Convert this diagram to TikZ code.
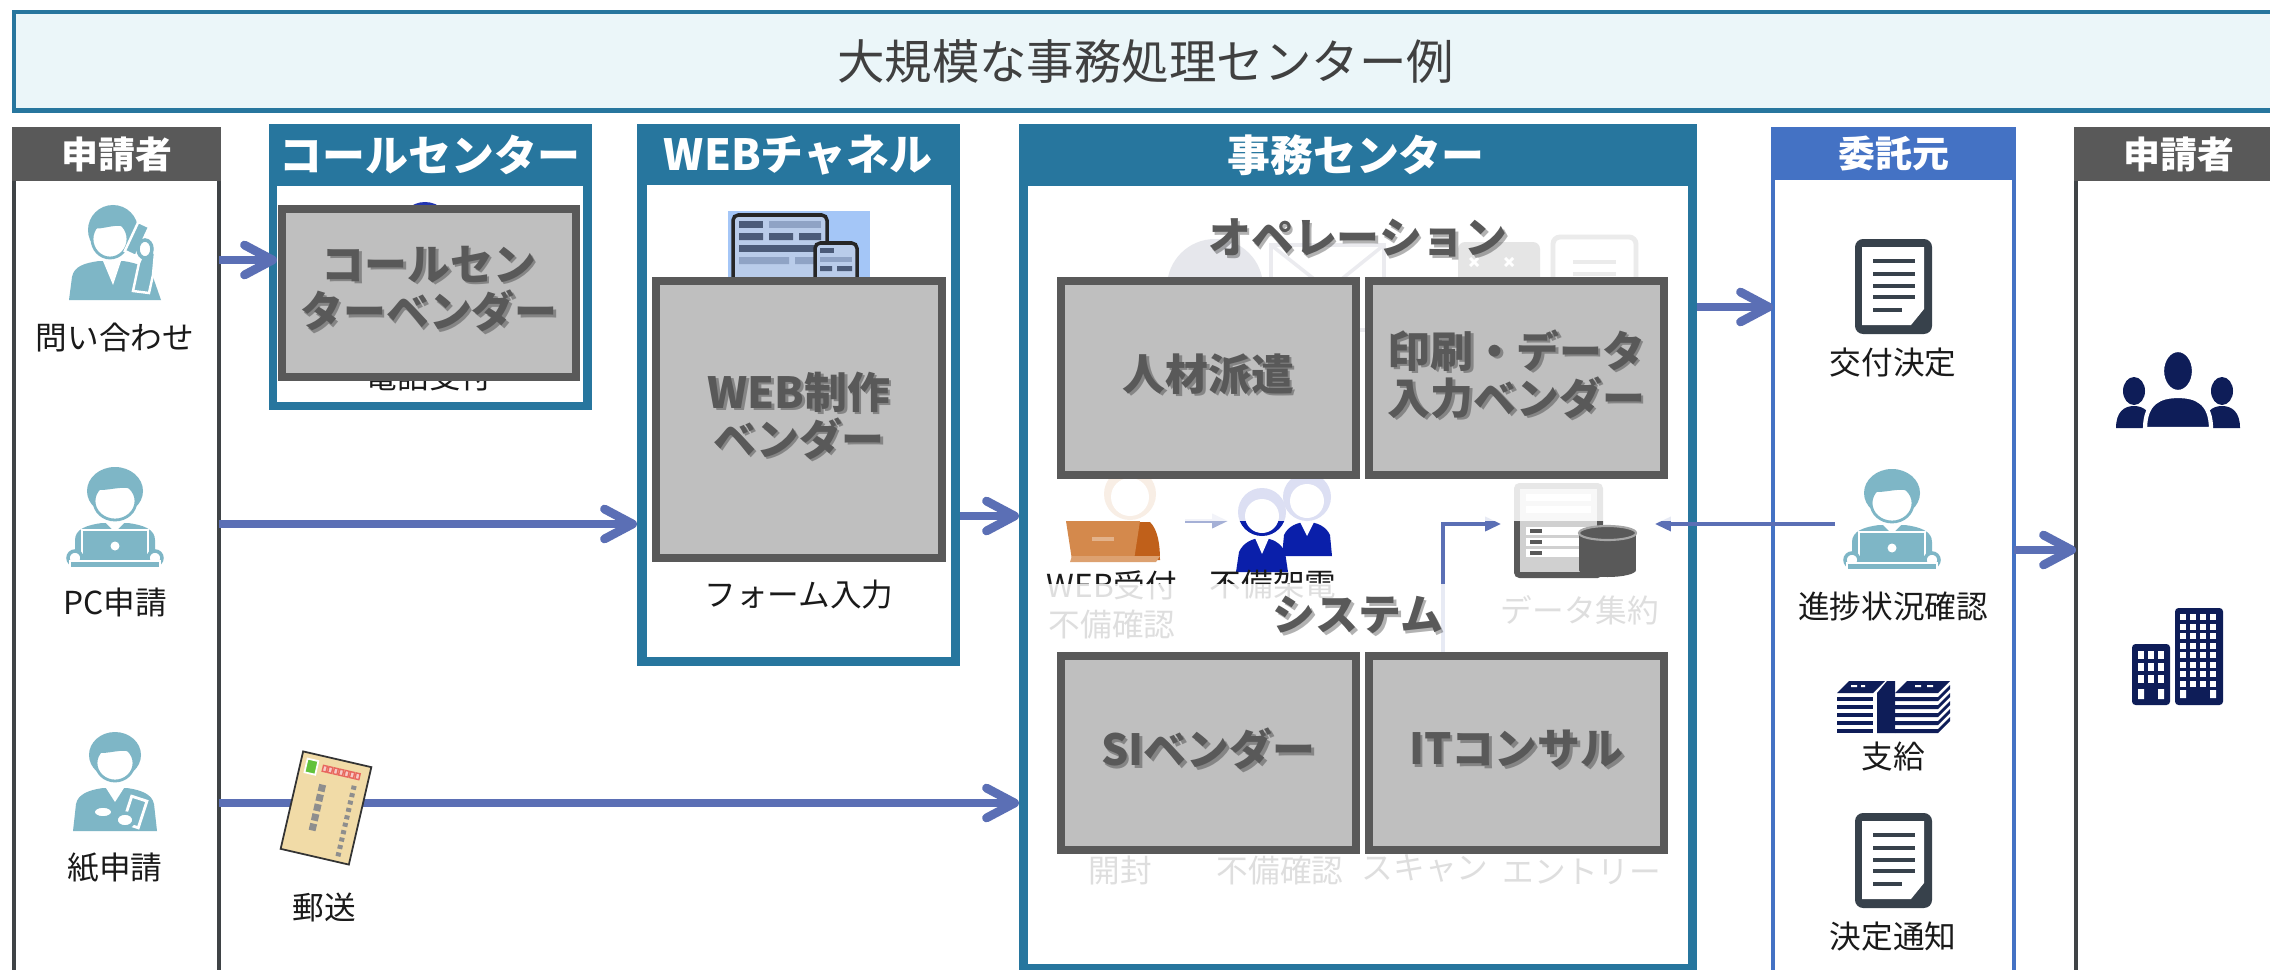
\documentclass[tikz,border=0pt]{standalone}
\usepackage{fontspec}
\setmainfont{Noto Sans CJK JP}
\usetikzlibrary{arrows.meta}

\definecolor{frameblue}{HTML}{27769E}
\definecolor{clientblue}{HTML}{4472C4}
\definecolor{headgray}{HTML}{595959}
\definecolor{edgegray}{HTML}{3F4346}
\definecolor{vendorfill}{HTML}{BFBFBF}
\definecolor{vendoredge}{HTML}{595959}
\definecolor{flowblue}{HTML}{5B6FB5}
\definecolor{personteal}{HTML}{7EB6C6}
\definecolor{iconnavy}{HTML}{0E1D58}
\definecolor{docgray}{HTML}{37414B}
\definecolor{bannerfill}{HTML}{EBF6F9}
\definecolor{bannertext}{HTML}{404040}
\definecolor{webbg}{HTML}{A4C6F7}
\definecolor{screenfill}{HTML}{B9CCEA}
\definecolor{slate}{HTML}{4B5B79}
\definecolor{slatelight}{HTML}{8FA3C5}
\definecolor{cardfill}{HTML}{F1DBA7}
\definecolor{stampgreen}{HTML}{62C23C}
\definecolor{postred}{HTML}{E8675F}
\definecolor{addrgray}{HTML}{8E8E8E}
\definecolor{deskorange}{HTML}{D4894C}
\definecolor{deskdark}{HTML}{C0601A}
\definecolor{agentblue}{HTML}{0A1FAA}
\definecolor{rackdark}{HTML}{595959}
\definecolor{racklight}{HTML}{D0D0D0}
\definecolor{faintblue}{HTML}{4F5679}
\definecolor{labeltext}{HTML}{1A1A1A}

\tikzset{
  plain/.style={inner sep=0pt, outer sep=0pt},
  framebox/.style={plain, fill=frameblue, anchor=north west},
  innerbox/.style={plain, fill=white, anchor=north west},
  hdtext/.style={plain, text=white, font=\fontsize{12.2pt}{14pt}\selectfont\bfseries},
  hdsmall/.style={plain, text=white, font=\fontsize{10.5pt}{12pt}\selectfont\bfseries},
  lbl/.style={plain, text=labeltext, font=\fontsize{9pt}{11pt}\selectfont, align=center},
  vbox/.style={plain, fill=vendorfill, draw=vendoredge, line width=2.3pt},
  vtext/.style={plain, text=vendoredge, font=\fontsize{12.2pt}{13.4pt}\selectfont\bfseries, align=center},
  vshadow/.style={vtext, text=black, opacity=.3},
  flow/.style={draw=flowblue, line width=2.5pt, -{Straight Barb[length=8pt,width=8.5pt,round]}},
  sysflow/.style={draw=flowblue, line width=0.9pt, -{Triangle[length=4.5pt,width=4pt]}},
  % applicant at a laptop
  pcperson/.pic={
    \fill[personteal] (0,-27) ellipse [x radius=28, y radius=24];
    \filldraw[fill=white, draw=personteal, line width=0.8pt] (0,-17) ellipse [x radius=21, y radius=19];
    \begin{scope}
      \clip (0,-17) ellipse [x radius=21, y radius=19];
      \fill[personteal] (-22,-29) .. controls (-8,-25) and (8,-35) .. (22,-27) -- (22,-40) -- (-22,-40) -- cycle;
    \end{scope}
    \fill[personteal] (-40,46) -- (-40,22) .. controls (-40,11) and (-28,7) .. (-13,5) -- (13,5) .. controls (28,7) and (40,11) .. (40,22) -- (40,46) -- cycle;
    \fill[white] (-9,5) -- (0,14) -- (9,5) -- cycle;
    \fill[personteal, draw=white, line width=0.7pt] (-33,12) rectangle (33,43);
    \fill[white] (0,28) circle (4.5);
    \filldraw[fill=white, draw=personteal, line width=1pt] (-40,40) circle (7) (40,40) circle (7);
    \fill[personteal, draw=white, line width=0.7pt] (-45,43) rectangle (45,50);
  },
  % applicant on the telephone
  callperson/.pic={
    \fill[personteal] (-2,-23) ellipse [x radius=25, y radius=25];
    \filldraw[fill=white, draw=personteal, line width=0.8pt] (-5,-14) ellipse [x radius=18, y radius=19];
    \begin{scope}
      \clip (-5,-14) ellipse [x radius=18, y radius=19];
      \fill[personteal] (-24,-25) .. controls (-12,-22) and (2,-32) .. (14,-24) -- (14,-40) -- (-24,-40) -- cycle;
    \end{scope}
    \fill[personteal] (-46,47) -- (-43,24) .. controls (-41,13) and (-30,10) .. (-16,8) -- (8,8) .. controls (22,10) and (34,14) .. (38,24) -- (46,47) -- cycle;
    \fill[white] (-12,8) -- (-2,32) -- (6,8) -- cycle;
    \fill[personteal, draw=white, line width=0.7pt] (18,38) -- (24,10) -- (30,-4) -- (40,0) -- (38,22) -- (34,40) -- cycle;
    \fill[personteal, draw=white, line width=0.7pt, rotate around={-25:(22,-14)}] (16,-30) rectangle (28,2);
    \filldraw[fill=white, draw=personteal, line width=1pt] (30,-4) ellipse [x radius=7, y radius=9];
  },
  % applicant holding a phone
  paperperson/.pic={
    \fill[personteal] (0,-27) ellipse [x radius=26, y radius=23];
    \filldraw[fill=white, draw=personteal, line width=0.8pt] (0,-19) ellipse [x radius=19, y radius=18];
    \begin{scope}
      \clip (0,-19) ellipse [x radius=19, y radius=18];
      \fill[personteal] (-20,-30) .. controls (-8,-26) and (8,-36) .. (20,-28) -- (20,-40) -- (-20,-40) -- cycle;
    \end{scope}
    \fill[personteal] (-42,49) -- (-39,22) .. controls (-37,12) and (-26,8) .. (-12,6) -- (12,6) .. controls (26,8) and (37,12) .. (39,22) -- (42,49) -- cycle;
    \fill[white] (-9,6) -- (0,20) -- (9,6) -- cycle;
    \fill[personteal, draw=white, line width=0.8pt, rotate around={-18:(20,30)}] (12,16) rectangle (28,44);
    \filldraw[fill=white, draw=personteal, line width=1pt] (10,38) ellipse [x radius=9, y radius=7] (-12,30) ellipse [x radius=10, y radius=6];
  },
  % desktop and tablet screens
  webicon/.pic={
    \fill[webbg] (-71,-33) rectangle (71,40);
    \filldraw[fill=screenfill, draw=black!85, line width=1pt, rounded corners=1.5pt] (-66,-29) rectangle (28,45);
    \fill[slate] (-60,-23) rectangle (-36,-16);
    \fill[slatelight] (-30,-23) rectangle (22,-16);
    \fill[slate] (-60,-11) rectangle (-36,-4) (-30,-11) rectangle (-6,-4) (0,-11) rectangle (22,-4);
    \fill[slate] (-60,1) rectangle (22,8);
    \fill[slatelight] (-60,13) rectangle (-10,20) (-4,13) rectangle (22,20);
    \filldraw[fill=screenfill, draw=black!85, line width=1pt, rounded corners=1.5pt] (16,-1) rectangle (58,45);
    \fill[slate] (21,4) rectangle (35,9);
    \fill[slatelight] (21,13) rectangle (53,18);
    \fill[slate] (21,22) rectangle (33,27) (38,22) rectangle (53,27);
  },
  % postcard
  postcard/.pic={
    \filldraw[fill=cardfill, draw=black!80, line width=0.5pt] (-35,-50) rectangle (35,50);
    \filldraw[fill=stampgreen, draw=white, line width=0.5pt] (-29,-44) rectangle (-18,-30);
    \foreach \i in {0,...,6} \filldraw[draw=postred, fill=postred!35, line width=0.4pt] ({-12+\i*5.6},-41) rectangle ({-8+\i*5.6},-35);
    \foreach \i in {0,...,9} \fill[addrgray] (20,{-28+\i*7.6}) rectangle (25,{-24+\i*7.6});
    \foreach \i in {0,...,4} \fill[addrgray] (-12,{-22+\i*10}) rectangle (-5,{-15+\i*10});
  },
  % document sheet
  docicon/.pic={
    \fill[docgray, rounded corners=2.3pt] (-38,-48) rectangle (39,47);
    \fill[white] (-31,-40) -- (31,-40) -- (31,22) -- (18,38) -- (-31,38) -- cycle;
    \foreach \yy in {-26,-13,-1,10} \draw[docgray, line width=1pt] (-20,\yy) -- (22,\yy);
    \draw[docgray, line width=1pt] (-20,23) -- (9,23);
  },
  % banknote stacks
  money/.pic={
    \fill[iconnavy] (-56,-14) -- (-44,-26) -- (-8,-26) -- (-20,-14) -- cycle;
    \fill[iconnavy] (2,-14) -- (14,-26) -- (57,-26) -- (45,-14) -- cycle;
    \foreach \k in {0,...,4} {
      \fill[iconnavy] (-56,{-10+\k*8}) rectangle (-20,{-6+\k*8});
      \fill[iconnavy] (2,{-10+\k*8}) -- (45,{-10+\k*8}) -- (57,{-22+\k*8}) -- (57,{-18+\k*8}) -- (45,{-6+\k*8}) -- (2,{-6+\k*8}) -- cycle;
    }
    \fill[iconnavy] (-16,-14) -- (-6,-26) -- (2,-26) -- (2,26) -- (-16,26) -- cycle;
    \fill[white] (-42,-22) rectangle (-36,-20) (-32,-22) rectangle (-28,-20) (22,-22) rectangle (28,-20) (34,-22) rectangle (40,-20);
  },
  % group of people
  crowd/.pic={
    \fill[iconnavy] (-44,3) ellipse [x radius=11, y radius=14];
    \fill[iconnavy] (-62,40) .. controls (-62,24) and (-54,18) .. (-44,18) .. controls (-34,18) and (-26,24) .. (-26,40) -- cycle;
    \fill[iconnavy] (44,3) ellipse [x radius=11, y radius=14];
    \fill[iconnavy] (26,40) .. controls (26,24) and (34,18) .. (44,18) .. controls (54,18) and (62,24) .. (62,40) -- cycle;
    \filldraw[fill=iconnavy, draw=white, line width=1.2pt] (-33,41) .. controls (-33,14) and (-18,8) .. (0,8) .. controls (18,8) and (33,14) .. (33,41) -- cycle;
    \filldraw[fill=iconnavy, draw=white, line width=1.2pt] (0,-17) ellipse [x radius=16, y radius=21];
  },
  % office buildings
  buildings/.pic={
    \fill[iconnavy, rounded corners=1pt] (-46,-13) rectangle (-8,48);
    \fill[iconnavy, rounded corners=1pt] (-3,-49) rectangle (45,48);
    \foreach \cx in {-40,-30,-20} \foreach \ry in {-6,6,18} \fill[white] (\cx,\ry) rectangle (\cx+6,\ry+8);
    \fill[white] (-40,32) rectangle (-34,42) (-20,32) rectangle (-14,42);
    \foreach \cx in {2,12,22,32} \foreach \k in {0,...,7} \fill[white] (\cx,{-43+\k*9.5}) rectangle (\cx+6,{-37+\k*9.5});
    \fill[white] (2,33) rectangle (8,41) (32,33) rectangle (38,41);
  },
}

% gray vendor panel with a shadowed caption
\newcommand\vendorbox[6]{%
  \node[vbox, minimum width=#4, minimum height=#5] (#1) at (#2,#3) {};
  \node[vshadow] (#1-shadow) at ([shift={(2.5,-1.5)}]#1.center) {#6};
  \node[vtext] (#1-label) at ([shift={(0,-4)}]#1.center) {#6};
}

\begin{document}
\begin{tikzpicture}[x=0.01cm, y=-0.01cm]
\clip (0,0) rectangle (2270,970);
\fill[white] (0,0) rectangle (2270,970);

% ---- banner
\node[plain, draw=frameblue, line width=1.4pt, fill=bannerfill, minimum width=22.62cm, minimum height=0.98cm,
      anchor=north west, text=bannertext, font=\fontsize{13.5pt}{15pt}\selectfont] (banner) at (14,12) {大規模な事務処理センター例};

% ---- applicants (left)
\node[plain, draw=edgegray, line width=1.15pt, minimum width=2.05cm, minimum height=8.7cm, anchor=north west] (appL) at (14,129) {};
\node[plain, fill=headgray, minimum width=2.09cm, minimum height=0.54cm, anchor=north west, hdsmall] (appLhead) at (12,127) {申請者};

% ---- call centre
\node[framebox, minimum width=3.23cm, minimum height=2.86cm] (cc) at (269,124) {};
\node[innerbox, minimum width=3.06cm, minimum height=2.16cm] (ccin) at (277,186) {};
\node[hdtext] (cchead) at (430,155) {コールセンター};

% ---- web channel
\node[framebox, minimum width=3.23cm, minimum height=5.42cm] (web) at (637,124) {};
\node[innerbox, minimum width=3.04cm, minimum height=4.72cm] (webin) at (647,185) {};
\node[hdtext] (webhead) at (798,155) {WEBチャネル};

% ---- back office
\node[framebox, minimum width=6.78cm, minimum height=8.7cm] (jimu) at (1019,124) {};
\node[innerbox, minimum width=6.60cm, minimum height=7.78cm] (jimuin) at (1028,186) {};
\node[hdtext] (jimuhead) at (1356,155) {事務センター};

% ---- client
\node[plain, draw=clientblue, line width=1.15pt, minimum width=2.41cm, minimum height=8.7cm, anchor=north west] (itaku) at (1773,129) {};
\node[plain, fill=clientblue, minimum width=2.45cm, minimum height=0.53cm, anchor=north west, hdsmall] (itakuhead) at (1771,127) {委託元};

% ---- applicants (right)
\node[plain, draw=edgegray, line width=1.15pt, minimum width=2.05cm, minimum height=8.7cm, anchor=north west] (appR) at (2076,129) {};
\node[plain, fill=headgray, minimum width=2.09cm, minimum height=0.54cm, anchor=north west, hdsmall] (appRhead) at (2074,127) {申請者};

% ---- applicant icons
\pic at (115,253) {callperson};
\node[lbl] (lq) at (115,338) {問い合わせ};
\pic at (115,518) {pcperson};
\node[lbl] (lpc) at (115,602) {PC申請};
\pic at (115,782) {paperperson};
\node[lbl] (lpaper) at (115,868) {紙申請};
\node[lbl] (lmail) at (324,907) {郵送};

% ---- call centre contents
\fill[agentblue!90] (425,228) circle (26);
\node[lbl] (lphone) at (429,376) {電話受付};

% ---- web channel contents
\pic at (799,244) {webicon};
\node[lbl] (lform) at (799,595) {フォーム入力};

% ---- client contents
\pic at (1893,287) {docicon};
\node[lbl] (ldecide) at (1893,363) {交付決定};
\pic at (1892,520) {pcperson};
\node[lbl] (lprog) at (1893,606) {進捗状況確認};
\pic at (1893,707) {money};
\node[lbl] (lpay) at (1893,757) {支給};
\pic at (1893,861) {docicon};
\node[lbl] (lnotice) at (1893,937) {決定通知};

% ---- right applicants
\pic at (2178,388) {crowd};
\pic at (2178,657) {buildings};

% ---- back office workflow (mostly faded)
\fill[faintblue] (1215,287) circle (48);
\filldraw[fill=white, draw=faintblue!80, line width=1pt] (1271,245) rectangle (1384,330);
\draw[faintblue!80, line width=1pt] (1271,245) -- (1328,290) -- (1384,245);
\fill[black!70, rounded corners=2pt] (1458,242) rectangle (1540,330);
\draw[white, line width=0.8pt] (1470,258) -- (1478,266) (1478,258) -- (1470,266) (1505,258) -- (1513,266) (1513,258) -- (1505,266);
\filldraw[fill=white, draw=black!55, line width=1.4pt, rounded corners=2pt] (1553,237) rectangle (1636,330);
\draw[black!55, line width=1.2pt] (1573,262) -- (1616,262) (1573,274) -- (1616,274);

% web reception desk
\fill[deskorange] (1130,494) circle (26);
\fill[white] (1130,497) circle (19);
\fill[deskdark] (1128,522) -- (1150,522) .. controls (1158,530) and (1160,545) .. (1160,560) -- (1128,560) -- cycle;
\fill[deskorange] (1066,521) -- (1140,521) -- (1134,560) -- (1072,560) -- cycle;
\fill[deskorange!80!white] (1072,556) -- (1160,556) -- (1156,562) -- (1070,562) -- cycle;
\fill[white, opacity=.35] (1092,537) rectangle (1114,541);

% call agents
\fill[agentblue] (1307,497) circle (24);
\fill[white] (1307,501) circle (17);
\fill[agentblue] (1282,556) -- (1284,535) .. controls (1288,526) and (1298,522) .. (1307,522) .. controls (1316,522) and (1326,526) .. (1330,535) -- (1332,556) -- cycle;
\fill[white] (1300,522) -- (1307,536) -- (1314,522) -- cycle;
\fill[agentblue] (1262,512) circle (24);
\fill[white] (1262,516) circle (17);
\fill[agentblue] (1236,572) -- (1239,552) .. controls (1243,543) and (1252,538) .. (1262,538) .. controls (1272,538) and (1281,543) .. (1285,552) -- (1288,572) -- cycle;
\fill[white] (1255,538) -- (1262,554) -- (1269,538) -- cycle;

% data server and database
\fill[rackdark, rounded corners=1.5pt] (1514,483) rectangle (1603,578);
\fill[racklight] (1520,489) rectangle (1597,572);
\foreach \ry in {494,506} \fill[white] (1526,\ry) rectangle (1591,\ry+7);
\foreach \ry in {527,538,549} {
  \fill[white] (1526,\ry) rectangle (1591,\ry+8);
  \fill[rackdark] (1530,\ry+2) rectangle (1542,\ry+6);
}
\fill[rackdark] (1579,533) rectangle (1636,570);
\fill[rackdark] (1607.5,570) ellipse [x radius=28.5, y radius=7];
\filldraw[fill=rackdark, draw=black!35, line width=0.6pt] (1607.5,533) ellipse [x radius=28.5, y radius=7];

\node[lbl] (lweb) at (1112,605) {WEB受付\\不備確認};
\node[lbl] (lcall) at (1273,584) {不備架電};
\node[lbl] (ldata) at (1580,610) {データ集約};
\node[lbl] (lopen) at (1120,870) {開封};
\node[lbl] (lcheck) at (1280,870) {不備確認};
\node[lbl] (lscan) at (1425,868) {スキャン};
\node[lbl] (lentry) at (1582,872) {エントリー};

% connectors of the data flow
\node[plain, minimum width=1.2cm, minimum height=0.6cm] (webdesk) at (1125,521) {};
\node[plain, minimum width=1.14cm, minimum height=0.6cm] (agents) at (1285,521) {};
\node[plain, minimum width=1.54cm, minimum height=0.9cm] (dataicon) at (1578,524) {};
\node[plain, minimum width=1.14cm, minimum height=1.04cm] (progicon) at (1892,524) {};
\coordinate (sysfeed) at (1443,652);
\draw[sysflow, draw=flowblue!55] (webdesk.east) -- (agents.west);
\draw[sysflow] (sysfeed) |- (dataicon.west);
\draw[sysflow] (progicon.west) -- (dataicon.east);

% veil over the back-office workflow
\fill[white, opacity=.86] (1028,186) rectangle (1688,521);
\fill[white, opacity=.86] (1028,584) rectangle (1688,964);

% ---- vendor panels
\vendorbox{ccvendor}{429}{293}{2.94cm}{1.68cm}{コールセン\\ターベンダー}
\vendorbox{webvendor}{799}{419.5}{2.86cm}{2.77cm}{WEB制作\\ベンダー}
\vendorbox{staffing}{1208.5}{378}{2.95cm}{1.94cm}{人材派遣}
\vendorbox{printing}{1516.5}{378}{2.95cm}{1.94cm}{印刷・データ\\入力ベンダー}
\vendorbox{sivendor}{1208.5}{753}{2.95cm}{1.94cm}{SIベンダー}
\vendorbox{itconsult}{1516.5}{753}{2.95cm}{1.94cm}{ITコンサル}

\node[vshadow] (opshadow) at (1360.5,240.5) {オペレーション};
\node[vtext] (optitle) at (1358,238) {オペレーション};
\node[vshadow] (sysshadow) at (1360.5,617.5) {システム};
\node[vtext] (systitle) at (1358,615) {システム};

% ---- main flows
\coordinate (rowq) at (0,260);
\coordinate (rowpc) at (0,524);
\coordinate (rowpaper) at (0,803);
\coordinate (rowweb) at (0,516);
\coordinate (rowop) at (0,307);
\coordinate (rowout) at (0,550);
\draw[flow] (appL.east |- rowq) -- (ccin.west |- rowq);
\draw[flow] (appL.east |- rowpc) -- (web.west |- rowpc);
\draw[flow] (appL.east |- rowpaper) -- (jimu.west |- rowpaper);
\draw[flow] (web.east |- rowweb) -- (jimu.west |- rowweb);
\draw[flow] (jimu.east |- rowop) -- (itaku.west |- rowop);
\draw[flow] (itaku.east |- rowout) -- (appR.west |- rowout);

% postcard on the mail route
\pic[rotate=-13] at (326,808) {postcard};
\end{tikzpicture}
\end{document}
